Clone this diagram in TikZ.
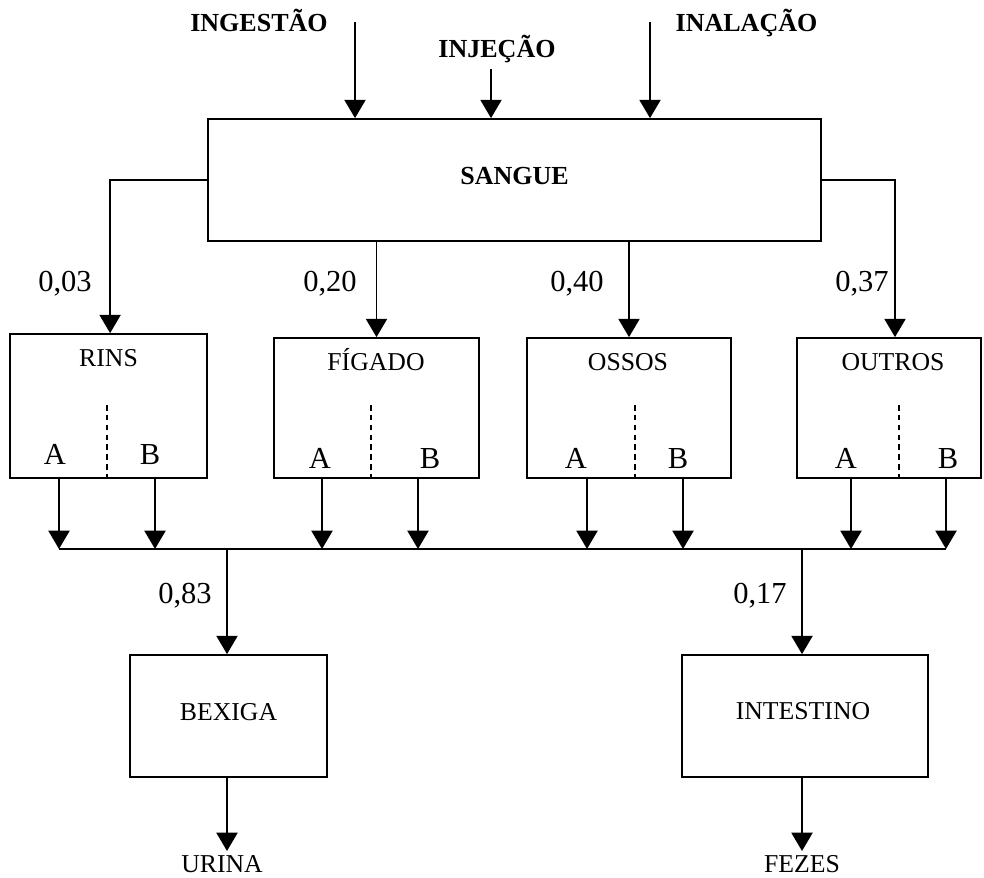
\documentclass[tikz,border=0pt]{standalone}
\usepackage{fontspec}
\setmainfont{Liberation Serif}
\usetikzlibrary{arrows.meta}

\tikzset{
  box/.style={draw, line width=1.2pt, inner sep=0pt},
  organ/.style={font={\fontsize{18.3}{20}\selectfont}, anchor=base, inner sep=0pt},
  part/.style={font={\fontsize{21.7}{24}\selectfont}, anchor=base, inner sep=0pt},
  frac/.style={font={\fontsize{21.7}{24}\selectfont}, anchor=base, inner sep=0pt},
  route/.style={font={\bfseries\fontsize{18.5}{20}\selectfont}, anchor=base, inner sep=0pt},
  flow/.style={-{Triangle[width=15pt,length=13pt]}, line width=1.2pt},
  divider/.style={dashed, dash pattern=on 4pt off 3pt, line width=1pt}
}

\begin{document}
\begin{tikzpicture}[x=0.025cm, y=-0.025cm]
\useasboundingbox (0,0) rectangle (984,878);

\node[box, minimum width=15.325cm, minimum height=3.05cm] (sangue) at (514.5,180) {};
\node[route] (sangueT) at (514.5,185) {SANGUE};

\node[route] (ingestao) at (259,32) {INGESTÃO};
\node[route] (injecao) at (497,58) {INJEÇÃO};
\node[route] (inalacao) at (746.5,32) {INALAÇÃO};
\coordinate (ingTop) at (355,22);
\coordinate (injTop) at (491,69);
\coordinate (inaTop) at (650,22);
\draw[flow] (ingTop) -- (ingTop |- sangue.north);
\draw[flow] (injTop) -- (injTop |- sangue.north);
\draw[flow] (inaTop) -- (inaTop |- sangue.north);

\node[box, minimum width=4.925cm, minimum height=3.6cm] (rins) at (108.5,406) {};
\node[box, minimum width=5.125cm, minimum height=3.5cm] (figado) at (376.5,408) {};
\node[box, minimum width=5.1cm, minimum height=3.5cm] (ossos) at (629,408) {};
\node[box, minimum width=4.6cm, minimum height=3.5cm] (outros) at (889,408) {};

\node[organ] (rinsT) at (108.5,367) {RINS};
\node[organ] (figadoT) at (376,371) {FÍGADO};
\node[organ] (ossosT) at (628,371) {OSSOS};
\node[organ] (outrosT) at (893,371) {OUTROS};

\node[part] (rinsA) at (55,464) {A};
\node[part] (rinsB) at (150,464) {B};
\node[part] (figadoA) at (320,468) {A};
\node[part] (figadoB) at (430,468) {B};
\node[part] (ossosA) at (576,468) {A};
\node[part] (ossosB) at (678,468) {B};
\node[part] (outrosA) at (846,468) {A};
\node[part] (outrosB) at (948,468) {B};

\draw[divider] (107,405) -- (107,478);
\draw[divider] (371,405) -- (371,478);
\draw[divider] (635,405) -- (635,478);
\draw[divider] (899,405) -- (899,478);

\draw[flow] (sangue.west) -| ([xshift=0.04cm]rins.north);
\draw[flow] (sangue.south -| figado.north) -- (figado.north);
\draw[flow] (sangue.south -| ossos.north) -- (ossos.north);
\draw[flow] (sangue.east) -| ([xshift=0.15cm]outros.north);

\node[frac] (f03) at (65,292) {0,03};
\node[frac] (f20) at (330,292) {0,20};
\node[frac] (f40) at (577,292) {0,40};
\node[frac] (f37) at (862,292) {0,37};

\coordinate (rinsAout) at (59,478);
\coordinate (rinsBout) at (155,478);
\coordinate (figadoAout) at (322,478);
\coordinate (figadoBout) at (418,478);
\coordinate (ossosAout) at (587,478);
\coordinate (ossosBout) at (683,478);
\coordinate (outrosAout) at (851,478);
\coordinate (outrosBout) at (946,478);
\coordinate (busL) at (59,549);
\coordinate (busR) at (946,549);

\draw[flow] (rinsAout) -- (rinsAout |- busL);
\draw[flow] (rinsBout) -- (rinsBout |- busL);
\draw[flow] (figadoAout) -- (figadoAout |- busL);
\draw[flow] (figadoBout) -- (figadoBout |- busL);
\draw[flow] (ossosAout) -- (ossosAout |- busL);
\draw[flow] (ossosBout) -- (ossosBout |- busL);
\draw[flow] (outrosAout) -- (outrosAout |- busL);
\draw[flow] (outrosBout) -- (outrosBout |- busL);
\draw[line width=1.2pt] (busL) -- (busR);

\node[box, minimum width=4.925cm, minimum height=3.05cm] (bexiga) at (228.5,716) {};
\node[box, minimum width=6.15cm, minimum height=3.05cm] (intestino) at (805,716) {};
\node[organ] (bexigaT) at (228.5,720) {BEXIGA};
\node[organ] (intestinoT) at (803,719) {INTESTINO};

\coordinate (busBex) at (227,549);
\coordinate (busInt) at (802,549);
\draw[flow] (busBex) -- (busBex |- bexiga.north);
\draw[flow] (busInt) -- (busInt |- intestino.north);
\node[frac] (f83) at (185,603) {0,83};
\node[frac] (f17) at (760,603) {0,17};

\node[organ] (urina) at (222,872) {URINA};
\node[organ] (fezes) at (802,872) {FEZES};
\draw[flow] (bexiga.south -| busBex) -- (busBex |- 0,851);
\draw[flow] (intestino.south -| busInt) -- (busInt |- 0,851);
\end{tikzpicture}
\end{document}
